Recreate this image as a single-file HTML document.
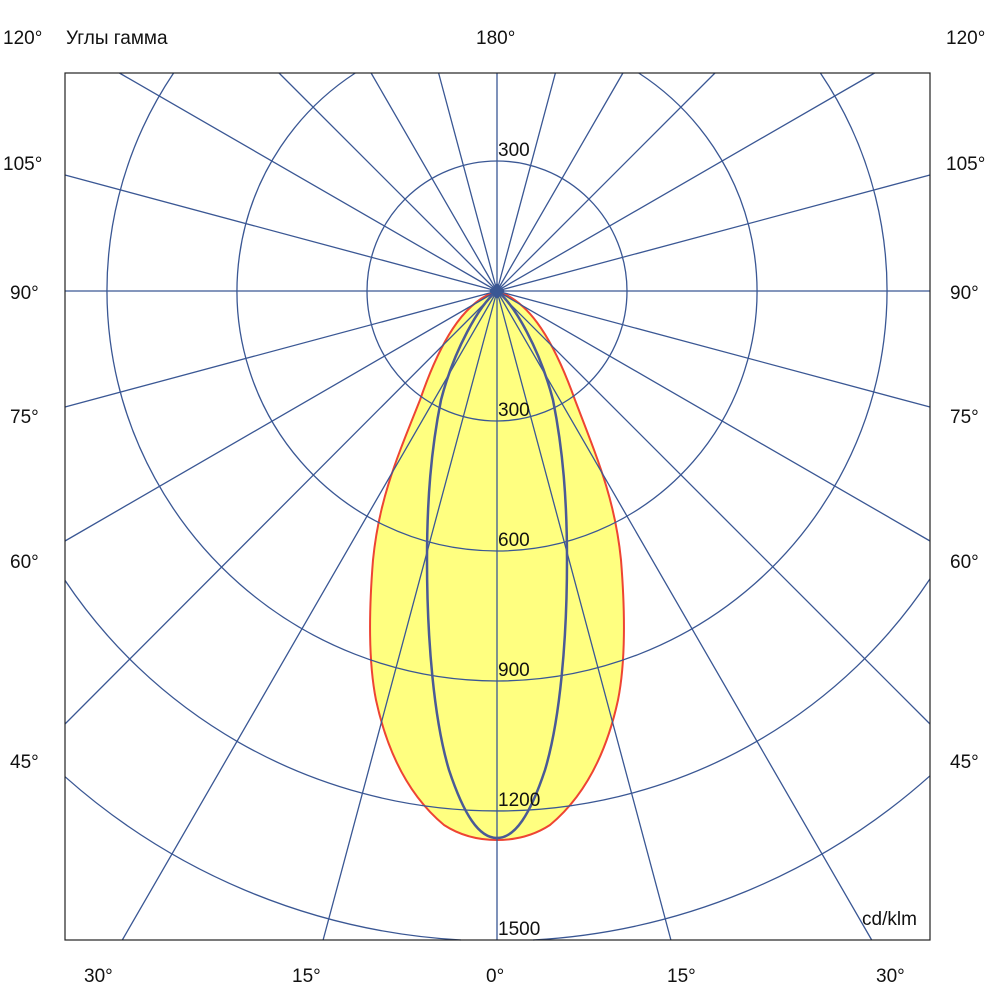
<!DOCTYPE html>
<html><head><meta charset="utf-8"><style>
html,body{margin:0;padding:0;background:#fff;width:1000px;height:1000px;overflow:hidden;}
svg{display:block;}
svg text{font-family:"Liberation Sans","Noto Sans CJK JP",sans-serif;font-size:19px;fill:#111;}
</style></head><body>
<svg width="1000" height="1000" xmlns="http://www.w3.org/2000/svg">
<path d="M497,291 C525,300 550,330 575,400 C598,460 615,500 621,560 C625,610 626,660 618,700 C605,760 580,800 550,825 C530,838 510,840 497,840 C484,840 464,838 444,825 C414,800 389,760 376,700 C368,660 369,610 373,560 C379,500 396,460 420,400 C444,330 469,300 497,291 Z" fill="#ffff80" stroke="#ee4433" stroke-width="2"/>
<g stroke="#3a5794" stroke-width="1.3" fill="none">
<circle cx="497" cy="291" r="130"/>
<path d="M638.7,73 A260,260 0 1 1 355.3,73"/>
<path d="M820.4,73 A390,390 0 1 1 173.6,73"/>
<path d="M930,578.9 A520,520 0 0 1 65,580.4"/>
<path d="M930,775.8 A650,650 0 0 1 533,940"/>
<path d="M461,940 A650,650 0 0 1 65,776.7"/>
<path d="M497,291L497,940 M497,291L670.9,940 M497,291L871.7,940 M497,291L930,724 M497,291L930,541 M497,291L930,407 M497,291L930,291 M497,291L930,175 M497,291L874.6,73 M497,291L715,73 M497,291L622.9,73 M497,291L555.4,73 M497,291L497,73 M497,291L438.6,73 M497,291L371.1,73 M497,291L279,73 M497,291L119.4,73 M497,291L65,175 M497,291L65,291 M497,291L65,407 M497,291L65,541 M497,291L65,724 M497,291L122.3,940 M497,291L323.1,940"/>
</g>
<path d="M497,291 C515,305 540,350 553,400 C563,450 567,500 567,560 C567,640 560,720 545,770 C530,815 515,838 497,838 C479,838 464,815 449,770 C434,720 427,640 427,560 C427,500 431,450 441,400 C454,350 479,305 497,291 Z" fill="none" stroke="#4a5a96" stroke-width="2.5"/>
<rect x="65" y="73" width="865" height="867" fill="none" stroke="#222" stroke-width="1.2"/>
<path d="M497,283 L505,291 L497,299 L489,291 Z" fill="#3a5794"/>
<text x="498" y="156">300</text><text x="498" y="416">300</text><text x="498" y="546">600</text><text x="498" y="676">900</text><text x="498" y="806">1200</text><text x="498" y="935">1500</text>
<text x="862" y="925">cd/klm</text>
<text x="3" y="44">120°</text><text x="66" y="44">Углы гамма</text><text x="476" y="44">180°</text><text x="946" y="44">120°</text>
<text x="3" y="170">105°</text><text x="946" y="170">105°</text>
<text x="10" y="299">90°</text><text x="950" y="299">90°</text>
<text x="10" y="423">75°</text><text x="950" y="423">75°</text>
<text x="10" y="568">60°</text><text x="950" y="568">60°</text>
<text x="10" y="768">45°</text><text x="950" y="768">45°</text>
<text x="84" y="982">30°</text><text x="292" y="982">15°</text><text x="486" y="982">0°</text><text x="667" y="982">15°</text><text x="876" y="982">30°</text>
</svg>
</body></html>
